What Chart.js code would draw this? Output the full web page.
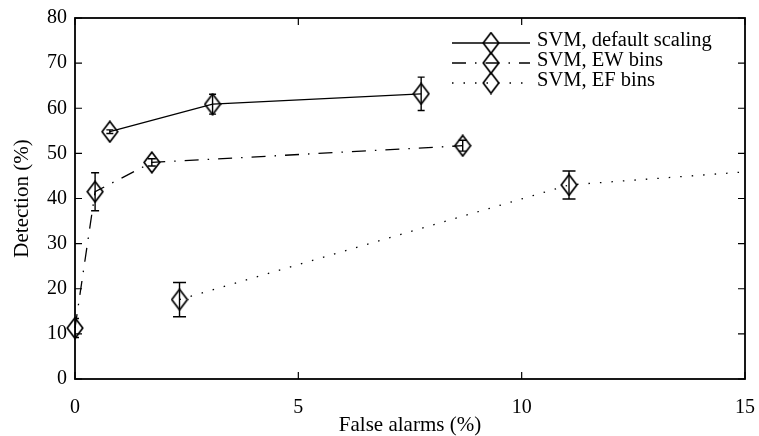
<!DOCTYPE html>
<html><head><meta charset="utf-8">
<script src="https://cdn.jsdelivr.net/npm/chart.js@4.4.0/dist/chart.umd.min.js"></script>
<style>html,body{margin:0;padding:0;background:#fff;}#wrap{width:759px;height:436px;}</style>
</head><body><div id="wrap"><canvas id="c" width="759" height="436"></canvas></div>
<script>
const seriesLabels = ['SVM, default scaling', 'SVM, EW bins', 'SVM, EF bins'];
const defaultX = [0.78, 3.08, 7.75];
const defaultY = [54.8, 60.9, 63.2];
const defaultErr = [0.4, 2.2, 3.7];
const ewX = [0, 0.45, 1.72, 8.68];
const ewY = [11.3, 41.5, 48.0, 51.7];
const ewErr = [2.1, 4.2, 0.8, 1.2];
const efX = [2.34, 11.06, 16.9];
const efY = [17.6, 43.0, 47.3];
const efErr = [3.8, 3.1, 3.0];
const xTicks = [0, 5, 10, 15];
const yTicks = [0, 10, 20, 30, 40, 50, 60, 70, 80];
const xTitle = 'False alarms (%)';
const yTitle = 'Detection (%)';

const FONT = "'Liberation Serif', 'Times New Roman', serif";

function diamond() {
  const w = 18, h = 23;
  const c = document.createElement('canvas');
  c.width = w; c.height = h;
  const g = c.getContext('2d');
  g.strokeStyle = '#000'; g.lineWidth = 1.7;
  g.beginPath();
  g.moveTo(w / 2, 1.2); g.lineTo(w - 1.2, h / 2); g.lineTo(w / 2, h - 1.2); g.lineTo(1.2, h / 2); g.closePath();
  g.stroke();
  return c;
}
const marker = diamond();

const pts = (xs, ys) => xs.map((v, i) => ({x: v, y: ys[i]}));

const dashes = [[], [14, 9, 1.5, 9], [1.5, 10]];

const datasets = [
  {label: seriesLabels[0], data: pts(defaultX, defaultY), errors: defaultErr, capWidth: 7, borderDash: dashes[0]},
  {label: seriesLabels[1], data: pts(ewX, ewY), errors: ewErr, capWidth: 8, borderDash: dashes[1], clip: false},
  {label: seriesLabels[2], data: pts(efX, efY), errors: efErr, capWidth: 13, borderDash: dashes[2]}
].map(d => Object.assign({
  showLine: true, borderColor: '#000', borderWidth: 1.3, tension: 0,
  pointStyle: marker, pointRadius: 9, pointHoverRadius: 9,
  backgroundColor: 'transparent', pointBorderColor: '#000'
}, d));

const errPlugin = {
  id: 'errbars',
  afterDatasetsDraw(chart) {
    const {ctx, chartArea: a, scales: {x, y}} = chart;
    ctx.save();
    ctx.beginPath(); ctx.rect(a.left, a.top, a.right - a.left, a.bottom - a.top); ctx.clip();
    ctx.strokeStyle = '#000'; ctx.lineWidth = 1.4; ctx.setLineDash([]);
    chart.data.datasets.forEach(ds => {
      const cap = ds.capWidth / 2;
      ds.data.forEach((p, i) => {
        const px = x.getPixelForValue(p.x);
        const yt = y.getPixelForValue(p.y + ds.errors[i]);
        const yb = y.getPixelForValue(p.y - ds.errors[i]);
        ctx.beginPath();
        ctx.moveTo(px, yt); ctx.lineTo(px, yb);
        ctx.moveTo(px - cap, yt); ctx.lineTo(px + cap, yt);
        ctx.moveTo(px - cap, yb); ctx.lineTo(px + cap, yb);
        ctx.stroke();
      });
    });
    ctx.restore();
  }
};

const framePlugin = {
  id: 'frame',
  afterDraw(chart) {
    const {ctx, chartArea: a, scales: {x, y}} = chart;
    ctx.save();
    ctx.strokeStyle = '#000'; ctx.setLineDash([]);
    ctx.lineWidth = 1.8;
    ctx.strokeRect(a.left, a.top, a.right - a.left, a.bottom - a.top);
    ctx.lineWidth = 1.2;
    const tl = 7;
    ctx.beginPath();
    x.ticks.forEach(t => {
      const px = x.getPixelForValue(t.value);
      ctx.moveTo(px, a.bottom); ctx.lineTo(px, a.bottom - tl);
      ctx.moveTo(px, a.top); ctx.lineTo(px, a.top + tl);
    });
    y.ticks.forEach(t => {
      const py = y.getPixelForValue(t.value);
      ctx.moveTo(a.left, py); ctx.lineTo(a.left + tl, py);
      ctx.moveTo(a.right, py); ctx.lineTo(a.right - tl, py);
    });
    ctx.stroke();
    // legend
    const rows = [43, 63, 83];
    const x0 = a.right - 293, x1 = a.right - 215, mx = (x0 + x1) / 2, tx = a.right - 208;
    chart.data.datasets.forEach((ds, i) => {
      const ry = rows[i];
      ctx.lineWidth = ds.borderWidth;
      ctx.setLineDash(ds.borderDash || []);
      ctx.beginPath(); ctx.moveTo(x0, ry); ctx.lineTo(x1, ry); ctx.stroke();
      ctx.setLineDash([]);
      ctx.drawImage(marker, mx - marker.width / 2, ry - marker.height / 2);
      ctx.fillStyle = '#000';
      ctx.font = '20.5px ' + FONT;
      ctx.textBaseline = 'middle'; ctx.textAlign = 'left';
      ctx.fillText(ds.label, tx, ry - 2);
    });
    ctx.restore();
  }
};

new Chart(document.getElementById('c'), {
  type: 'scatter',
  data: {datasets},
  options: {
    responsive: false, animation: false, devicePixelRatio: 1,
    layout: {padding: {left: 0, right: 14, top: 18, bottom: 0}},
    plugins: {legend: {display: false}, tooltip: {enabled: false}},
    scales: {
      x: {
        type: 'linear', min: 0, max: 15,
        afterBuildTicks: s => { s.ticks = xTicks.map(v => ({value: v})); },
        afterFit: s => { s.height = 57; s.paddingLeft = 0; s.paddingRight = 0; },
        grid: {display: false, drawTicks: false},
        border: {display: false},
        ticks: {color: '#000', padding: 17, font: {family: FONT, size: 20}},
        title: {display: true, text: xTitle, color: '#000', font: {family: FONT, size: 21}, padding: {top: 0, bottom: -2}}
      },
      y: {
        type: 'linear', min: 0, max: 80,
        afterBuildTicks: s => { s.ticks = yTicks.map(v => ({value: v})); },
        afterFit: s => { s.width = 75; s.paddingTop = 0; s.paddingBottom = 0; },
        grid: {display: false, drawTicks: false},
        border: {display: false},
        ticks: {color: '#000', padding: 8, font: {family: FONT, size: 20}},
        title: {display: true, text: yTitle, color: '#000', font: {family: FONT, size: 21}, padding: {top: 10, bottom: 0}}
      }
    }
  },
  plugins: [errPlugin, framePlugin]
});
</script>
</body></html>
